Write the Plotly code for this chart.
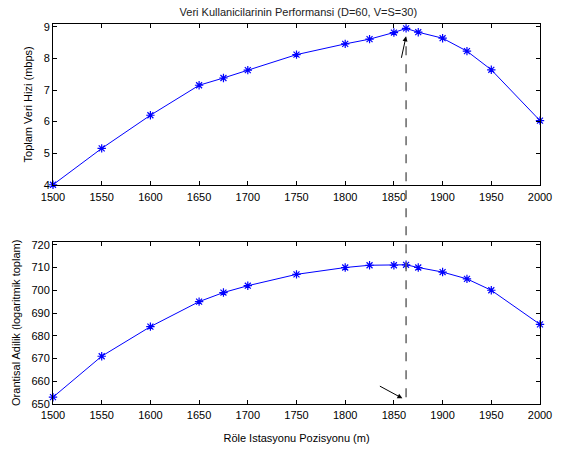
import plotly.graph_objects as go

# Data
positions = [1500, 1550, 1600, 1650, 1675, 1700, 1750, 1800, 1825, 1850, 1862.5, 1875, 1900, 1925, 1950, 2000]
throughput = [4.0, 5.15, 6.2, 7.15, 7.38, 7.63, 8.12, 8.46, 8.61, 8.82, 8.95, 8.83, 8.64, 8.23, 7.64, 6.03]
fairness = [653, 671, 684, 695, 699, 702, 707, 710, 711, 711, 711.2, 710, 708, 705, 700, 685]
x_ticks = [1500, 1550, 1600, 1650, 1700, 1750, 1800, 1850, 1900, 1950, 2000]
y1_ticks = [4, 5, 6, 7, 8, 9]
y2_ticks = [650, 660, 670, 680, 690, 700, 710, 720]
best_pos = 1862.5

title_text = "Veri Kullanicilarinin Performansi (D=60, V=S=30)"
xlabel = "Röle Istasyonu Pozisyonu (m)"
y1label = "Toplam Veri Hizi (mbps)"
y2label = "Orantisal Adilik (logaritmik toplam)"

FONT = "Liberation Sans, Arial, sans-serif"
blue = "#0000ff"

fig = go.Figure()
marker = dict(symbol="asterisk-open", size=7, color=blue, line=dict(color=blue, width=1.2))
fig.add_trace(go.Scatter(x=positions, y=throughput, mode="lines+markers",
                         line=dict(color=blue, width=1), marker=marker,
                         xaxis="x", yaxis="y", showlegend=False, cliponaxis=False))
fig.add_trace(go.Scatter(x=positions, y=fairness, mode="lines+markers",
                         line=dict(color=blue, width=1), marker=marker,
                         xaxis="x2", yaxis="y2", showlegend=False, cliponaxis=False))

axis_common = dict(showline=True, linecolor="black", linewidth=1, mirror="ticks",
                   ticks="inside", ticklen=4, tickcolor="black", showgrid=False,
                   zeroline=False, tickfont=dict(family=FONT, size=11, color="black"))

fig.update_layout(
    width=564, height=455,
    margin=dict(l=53, r=18, t=24, b=41),
    paper_bgcolor="white", plot_bgcolor="white",
    font=dict(family=FONT, size=11, color="black"),
    title=dict(text=title_text, x=0.529, xanchor="center", y=0.973, yanchor="middle",
               font=dict(family=FONT, size=11, color="#222")),
    xaxis=dict(domain=[0, 1], anchor="y", range=[1500, 2000], tickvals=x_ticks,
               ticklabelstandoff=2, **axis_common),
    yaxis=dict(domain=[0.577, 1], anchor="x", range=[4, 9.09], tickvals=y1_ticks,
               title=dict(text=y1label, standoff=8, font=dict(family=FONT, size=11)), **axis_common),
    xaxis2=dict(domain=[0, 1], anchor="y2", range=[1500, 2000], tickvals=x_ticks,
                ticklabelstandoff=1,
                title=dict(text=xlabel, standoff=14, font=dict(family=FONT, size=11)), **axis_common),
    yaxis2=dict(domain=[0, 0.4274], anchor="x2", range=[650, 721.4], tickvals=y2_ticks,
                title=dict(text=y2label, standoff=8, font=dict(family=FONT, size=11)), **axis_common),
)

# dashed vertical line at best position spanning both panels
fig.add_shape(type="line", xref="x", yref="paper", x0=best_pos, x1=best_pos,
              y0=0.018, y1=0.945, line=dict(color="#666666", width=1.5, dash="dash"))

# arrows
fig.add_annotation(x=best_pos, y=8.70, xref="x", yref="y", ax=-5, ay=23, axref="pixel", ayref="pixel",
                   showarrow=True, arrowhead=2, arrowsize=1, arrowwidth=1, arrowcolor="black", text="")
fig.add_annotation(x=1858.7, y=652.5, xref="x2", yref="y2", ax=-24, ay=-13,
                   showarrow=True, arrowhead=2, arrowsize=1, arrowwidth=1, arrowcolor="black", text="")

fig.write_html("out.html")
